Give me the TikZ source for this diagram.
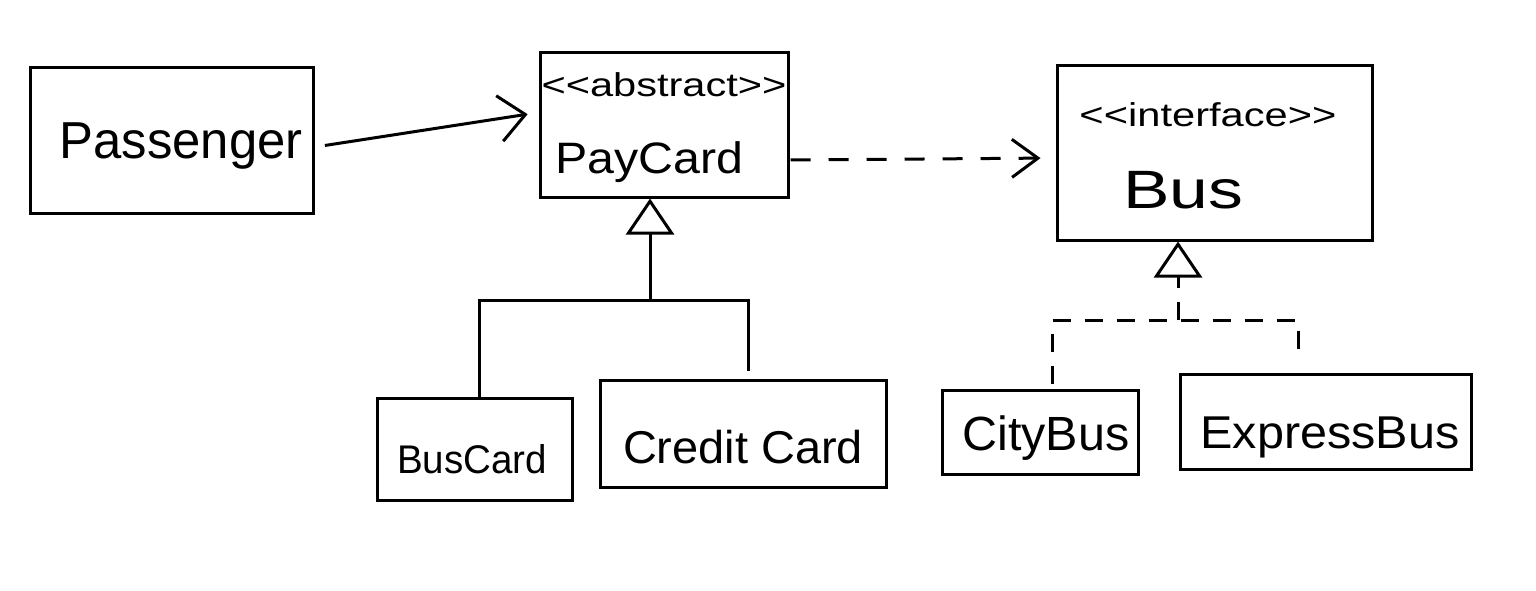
\documentclass[tikz,border=0pt]{standalone}
\usepackage{fontspec}
\setmainfont{Liberation Sans}
\usetikzlibrary{arrows.meta}
\newcommand\hw[3]{{\fontsize{#1}{#1}\selectfont\resizebox{#2pt}{\height}{#3}}}
\begin{document}
\begin{tikzpicture}[x=1pt,y=-1pt,line width=3pt,
  box/.style={draw,rectangle,inner sep=0pt},
  lbl/.style={inner sep=0pt,anchor=base},
  dsh/.style={dash pattern=on 20pt off 18pt},
  dshort/.style={dash pattern=on 18pt off 14pt},
  gen/.style={-{Triangle[open,length=36pt,width=48pt]}},
  assoc/.style={-{Straight Barb[length=26pt,width=46pt]}},
  dep/.style={-{Straight Barb[length=26pt,width=38pt]}}]
\useasboundingbox (0,0) rectangle (1536,590);

% boxes
\node[box,minimum width=283pt,minimum height=146pt] (pas) at (172,140) {};
\node[box,minimum width=248pt,minimum height=145pt] (pc) at (664,124.5) {};
\node[box,minimum width=315pt,minimum height=175pt] (bus) at (1214.5,152.5) {};
\node[box,minimum width=195pt,minimum height=102pt] (bc) at (474.5,449) {};
\node[box,minimum width=286pt,minimum height=107pt] (cc) at (743,433.5) {};
\node[box,minimum width=196pt,minimum height=84pt] (cb) at (1040,432) {};
\node[box,minimum width=291pt,minimum height=95pt] (eb) at (1325.5,421.5) {};

% texts
\node[lbl] (tpas) at (181,158) {\hw{52}{243}{Passenger}};
\node[lbl] (tpcs) at (664,96) {\hw{33}{245}{{<}{<}abstract{>}{>}}};
\node[lbl] (tpc) at (649,173) {\hw{44}{188}{PayCard}};
\node[lbl] (tbuss) at (1208,126) {\hw{33}{257}{{<}{<}interface{>}{>}}};
\node[lbl] (tbus) at (1183,208) {\hw{54}{120}{Bus}};
\node[lbl] (tbc) at (472,473) {\hw{40}{150}{BusCard}};
\node[lbl] (tcc) at (743,463) {\hw{46}{240}{Credit Card}};
\node[lbl] (tcb) at (1046,450) {\hw{48}{167}{CityBus}};
\node[lbl] (teb) at (1330,448) {\hw{46}{259}{ExpressBus}};

% association and dependency
\draw[assoc,shorten <=10pt,shorten >=11pt] ([yshift=-7pt]pas.east) -- ([yshift=12pt]pc.west);
\draw[dep,dsh,shorten <=1pt,shorten >=15pt] ([yshift=-35.5pt]pc.east) -- ([yshift=-5.5pt]bus.west);

% generalization
\coordinate (j1) at (650,300);
\draw[gen] (j1) -- ([xshift=-14pt]pc.south);
\draw[shorten >=8pt] ([xshift=5pt]bc.north) |- (j1) -| ([xshift=5pt]cc.north);

% realization
\coordinate (j2) at (1178,320);
\draw[gen,dshort] (j2) -- ([xshift=-36.5pt]bus.south);
\draw[dshort,shorten <=5pt,shorten >=16pt] ([xshift=12pt]cb.north) |- (j2) -| ([xshift=-27.5pt]eb.north);
\end{tikzpicture}
\end{document}
